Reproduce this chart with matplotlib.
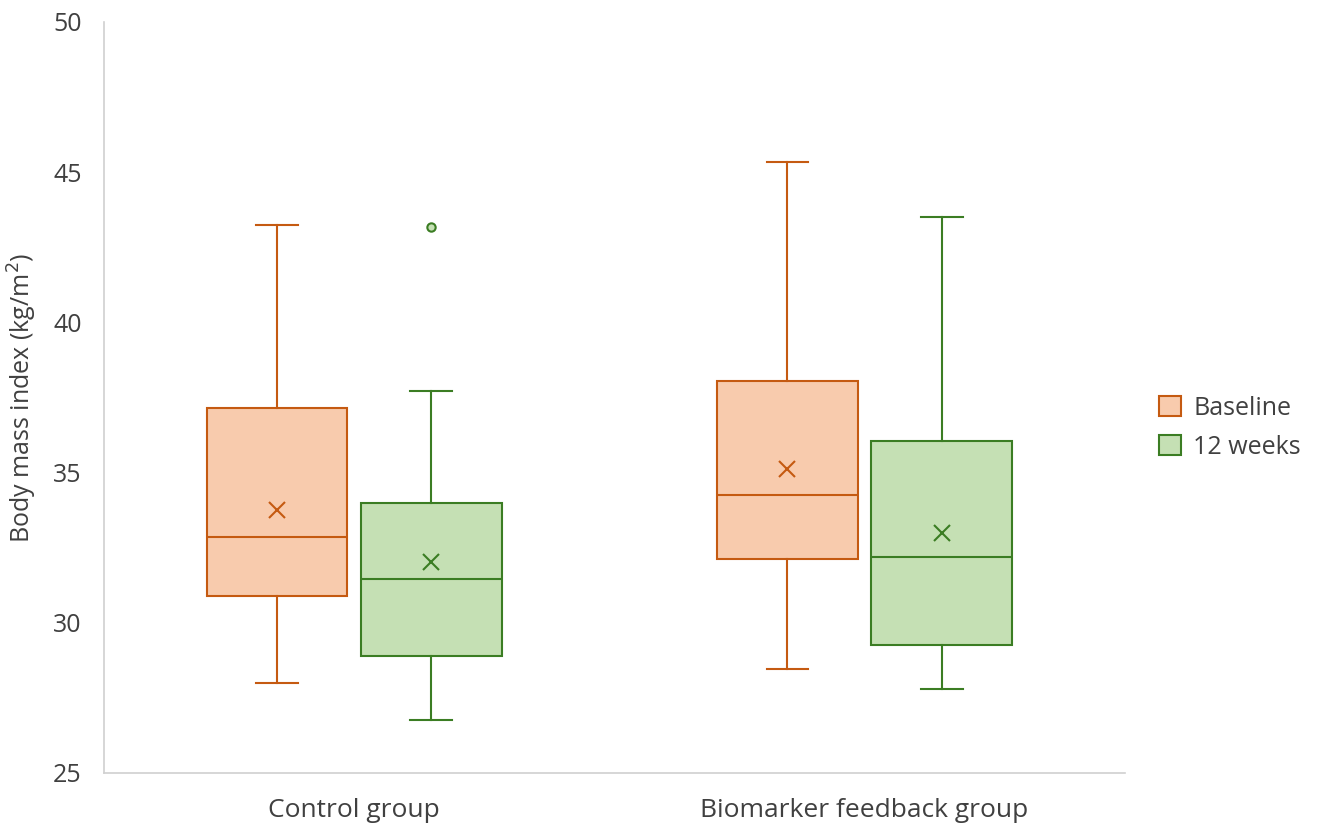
import matplotlib.pyplot as plt
from matplotlib.patches import Patch

plt.rcParams['font.family'] = ['Open Sans', 'DejaVu Sans']

groups = ['Control group', 'Biomarker feedback group']
series = ['Baseline', '12 weeks']

# per group: [baseline, 12 weeks]
whislo = [[28.0, 26.76], [28.46, 27.8]]
q1 = [[30.89, 28.9], [32.12, 29.26]]
med = [[32.86, 31.46], [34.25, 32.19]]
q3 = [[37.15, 33.99], [38.05, 36.05]]
whishi = [[43.24, 37.72], [45.34, 43.51]]
means = [[33.75, 32.02], [35.12, 32.99]]
fliers = [[[], [43.18]], [[], []]]

edge_colors = ['#C55A11', '#3B7D23']
fill_colors = ['#F8CBAD', '#C5E0B4']

fig = plt.figure(figsize=(13.19, 8.26), dpi=100)
ax = fig.add_axes([0.0788, 0.0642, 0.774, 0.9092])

offsets = [-0.151, 0.151]
for s in range(2):
    stats = []
    for g in range(2):
        stats.append(dict(whislo=whislo[g][s], q1=q1[g][s], med=med[g][s],
                          q3=q3[g][s], whishi=whishi[g][s], mean=means[g][s],
                          fliers=fliers[g][s]))
    ec = edge_colors[s]
    ax.bxp(stats, positions=[g + offsets[s] for g in range(2)], widths=0.276,
           capwidths=0.082, patch_artist=True, showmeans=True,
           boxprops=dict(facecolor=fill_colors[s], edgecolor=ec, linewidth=1.5),
           whiskerprops=dict(color=ec, linewidth=1.5),
           capprops=dict(color=ec, linewidth=1.5),
           medianprops=dict(color=ec, linewidth=1.5),
           meanprops=dict(marker='x', markeredgecolor=ec, markersize=12,
                          markeredgewidth=1.5),
           flierprops=dict(marker='o', markeredgecolor=ec,
                           markerfacecolor=fill_colors[s], markersize=6,
                           markeredgewidth=1.5))

ax.set_xlim(-0.49, 1.51)
ax.set_ylim(25, 50)
ax.set_yticks([25, 30, 35, 40, 45, 50])
ax.set_xticks([0, 1])
ax.set_xticklabels(groups)
ax.tick_params(axis='both', length=0, colors='#404040')
ax.tick_params(axis='y', pad=16, labelsize=18)
ax.tick_params(axis='x', pad=18, labelsize=19)
for side in ['top', 'right']:
    ax.spines[side].set_visible(False)
for side in ['left', 'bottom']:
    ax.spines[side].set_color('#D0D0D0')
    ax.spines[side].set_linewidth(1.2)

ax.set_ylabel('Body mass index (kg/m$^2$)', fontsize=18, color='#404040', labelpad=10)

handles = [Patch(facecolor=fill_colors[i], edgecolor=edge_colors[i], linewidth=1.5,
                 label=series[i]) for i in range(2)]
fig.legend(handles=handles, loc='center left', bbox_to_anchor=(0.862, 0.482),
           frameon=False, fontsize=18, handlelength=0.85, handleheight=0.85,
           handletextpad=0.5, labelspacing=0.55, labelcolor='#404040')

fig.savefig('out.png', dpi=100)
